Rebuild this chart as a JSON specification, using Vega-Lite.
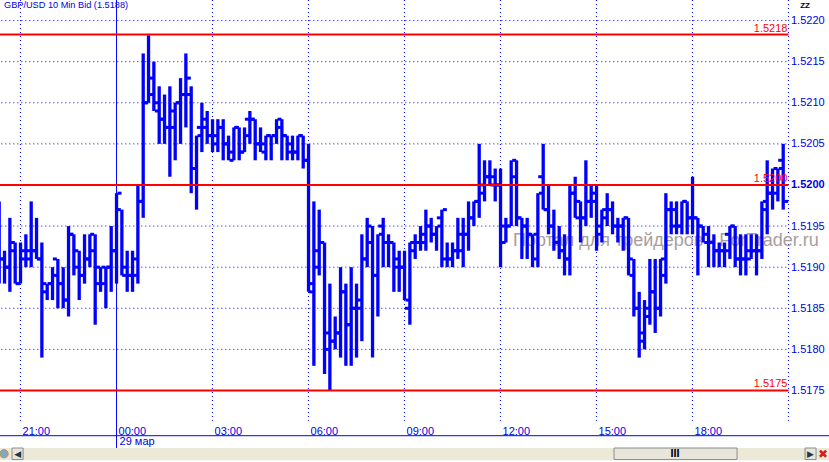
{
"$schema":"https://vega.github.io/schema/vega-lite/v6.json",
"width":829,"height":462,"padding":0,"autosize":"none","background":"#ffffff",
"config":{"view":{"stroke":null}},
"datasets":{
"bars":[
{"t":"2011-03-28T20:20:00","o":1.5192,"h":1.5198,"l":1.5188,"c":1.5191},
{"t":"2011-03-28T20:30:00","o":1.5191,"h":1.5192,"l":1.5188,"c":1.5190},
{"t":"2011-03-28T20:40:00","o":1.5190,"h":1.5196,"l":1.5187,"c":1.5193},
{"t":"2011-03-28T20:50:00","o":1.5192,"h":1.5193,"l":1.5188,"c":1.5188},
{"t":"2011-03-28T21:00:00","o":1.5188,"h":1.5193,"l":1.5188,"c":1.5192},
{"t":"2011-03-28T21:10:00","o":1.5191,"h":1.5194,"l":1.5190,"c":1.5192},
{"t":"2011-03-28T21:20:00","o":1.5191,"h":1.5198,"l":1.5190,"c":1.5192},
{"t":"2011-03-28T21:30:00","o":1.5192,"h":1.5196,"l":1.5191,"c":1.5191},
{"t":"2011-03-28T21:40:00","o":1.5191,"h":1.5193,"l":1.5179,"c":1.5187},
{"t":"2011-03-28T21:50:00","o":1.5188,"h":1.5188,"l":1.5186,"c":1.5188},
{"t":"2011-03-28T22:00:00","o":1.5188,"h":1.5190,"l":1.5186,"c":1.5189},
{"t":"2011-03-28T22:10:00","o":1.5191,"h":1.5191,"l":1.5185,"c":1.5188},
{"t":"2011-03-28T22:20:00","o":1.5188,"h":1.5190,"l":1.5185,"c":1.5186},
{"t":"2011-03-28T22:30:00","o":1.5186,"h":1.5195,"l":1.5184,"c":1.5194},
{"t":"2011-03-28T22:40:00","o":1.5194,"h":1.5194,"l":1.5189,"c":1.5190},
{"t":"2011-03-28T22:50:00","o":1.5192,"h":1.5192,"l":1.5186,"c":1.5189},
{"t":"2011-03-28T23:00:00","o":1.5189,"h":1.5194,"l":1.5188,"c":1.5191},
{"t":"2011-03-28T23:10:00","o":1.5191,"h":1.5194,"l":1.5190,"c":1.5192},
{"t":"2011-03-28T23:20:00","o":1.5194,"h":1.5194,"l":1.5183,"c":1.5190},
{"t":"2011-03-28T23:30:00","o":1.5188,"h":1.5190,"l":1.5187,"c":1.5190},
{"t":"2011-03-28T23:40:00","o":1.5188,"h":1.5190,"l":1.5185,"c":1.5190},
{"t":"2011-03-28T23:50:00","o":1.5190,"h":1.5195,"l":1.5187,"c":1.5192},
{"t":"2011-03-29T00:00:00","o":1.5192,"h":1.5199,"l":1.5188,"c":1.5199},
{"t":"2011-03-29T00:10:00","o":1.5197,"h":1.5197,"l":1.5189,"c":1.5190},
{"t":"2011-03-29T00:20:00","o":1.5189,"h":1.5192,"l":1.5187,"c":1.5189},
{"t":"2011-03-29T00:30:00","o":1.5189,"h":1.5192,"l":1.5187,"c":1.5191},
{"t":"2011-03-29T00:40:00","o":1.5189,"h":1.5200,"l":1.5188,"c":1.5198},
{"t":"2011-03-29T00:50:00","o":1.5198,"h":1.5216,"l":1.5196,"c":1.5210},
{"t":"2011-03-29T01:00:00","o":1.5210,"h":1.52182,"l":1.5210,"c":1.5211},
{"t":"2011-03-29T01:10:00","o":1.5213,"h":1.5215,"l":1.5209,"c":1.5209},
{"t":"2011-03-29T01:20:00","o":1.5210,"h":1.5212,"l":1.5205,"c":1.5208},
{"t":"2011-03-29T01:30:00","o":1.5208,"h":1.5211,"l":1.5205,"c":1.5207},
{"t":"2011-03-29T01:40:00","o":1.5207,"h":1.5212,"l":1.5201,"c":1.5207},
{"t":"2011-03-29T01:50:00","o":1.5209,"h":1.5210,"l":1.5203,"c":1.5210},
{"t":"2011-03-29T02:00:00","o":1.5210,"h":1.5213,"l":1.5205,"c":1.5211},
{"t":"2011-03-29T02:10:00","o":1.5211,"h":1.5216,"l":1.5207,"c":1.5213},
{"t":"2011-03-29T02:20:00","o":1.5211,"h":1.5212,"l":1.5199,"c":1.5202},
{"t":"2011-03-29T02:30:00","o":1.5202,"h":1.5206,"l":1.5197,"c":1.5206},
{"t":"2011-03-29T02:40:00","o":1.5207,"h":1.5210,"l":1.5204,"c":1.5208},
{"t":"2011-03-29T02:50:00","o":1.5207,"h":1.5209,"l":1.5205,"c":1.5206},
{"t":"2011-03-29T03:00:00","o":1.5206,"h":1.5208,"l":1.5204,"c":1.5205},
{"t":"2011-03-29T03:10:00","o":1.5206,"h":1.5208,"l":1.5204,"c":1.5207},
{"t":"2011-03-29T03:20:00","o":1.5207,"h":1.5208,"l":1.5203,"c":1.5205},
{"t":"2011-03-29T03:30:00","o":1.5205,"h":1.5206,"l":1.5203,"c":1.5203},
{"t":"2011-03-29T03:40:00","o":1.5204,"h":1.5207,"l":1.5203,"c":1.5207},
{"t":"2011-03-29T03:50:00","o":1.5207,"h":1.5207,"l":1.5203,"c":1.5204},
{"t":"2011-03-29T04:00:00","o":1.5204,"h":1.5207,"l":1.5204,"c":1.5206},
{"t":"2011-03-29T04:10:00","o":1.5208,"h":1.5209,"l":1.5205,"c":1.5208},
{"t":"2011-03-29T04:20:00","o":1.5208,"h":1.5208,"l":1.5203,"c":1.5205},
{"t":"2011-03-29T04:30:00","o":1.5205,"h":1.5207,"l":1.5204,"c":1.5204},
{"t":"2011-03-29T04:40:00","o":1.5205,"h":1.5206,"l":1.5203,"c":1.5206},
{"t":"2011-03-29T04:50:00","o":1.5206,"h":1.5206,"l":1.5203,"c":1.5206},
{"t":"2011-03-29T05:00:00","o":1.5206,"h":1.5208,"l":1.5205,"c":1.5208},
{"t":"2011-03-29T05:10:00","o":1.5207,"h":1.5208,"l":1.5203,"c":1.5206},
{"t":"2011-03-29T05:20:00","o":1.5206,"h":1.5206,"l":1.5203,"c":1.5205},
{"t":"2011-03-29T05:30:00","o":1.5204,"h":1.5206,"l":1.5203,"c":1.5204},
{"t":"2011-03-29T05:40:00","o":1.5204,"h":1.5206,"l":1.5203,"c":1.5206},
{"t":"2011-03-29T05:50:00","o":1.5206,"h":1.5206,"l":1.5202,"c":1.5203},
{"t":"2011-03-29T06:00:00","o":1.5203,"h":1.5205,"l":1.5187,"c":1.5188},
{"t":"2011-03-29T06:10:00","o":1.5187,"h":1.5198,"l":1.5178,"c":1.5192},
{"t":"2011-03-29T06:20:00","o":1.5190,"h":1.5197,"l":1.5189,"c":1.5193},
{"t":"2011-03-29T06:30:00","o":1.5193,"h":1.5193,"l":1.5177,"c":1.5182},
{"t":"2011-03-29T06:40:00","o":1.5180,"h":1.5188,"l":1.5175,"c":1.5181},
{"t":"2011-03-29T06:50:00","o":1.5181,"h":1.5184,"l":1.5180,"c":1.5182},
{"t":"2011-03-29T07:00:00","o":1.5182,"h":1.5190,"l":1.5179,"c":1.5187},
{"t":"2011-03-29T07:10:00","o":1.5187,"h":1.5188,"l":1.5178,"c":1.5183},
{"t":"2011-03-29T07:20:00","o":1.5183,"h":1.5190,"l":1.5178,"c":1.5185},
{"t":"2011-03-29T07:30:00","o":1.5185,"h":1.5188,"l":1.5179,"c":1.5186},
{"t":"2011-03-29T07:40:00","o":1.5185,"h":1.5194,"l":1.5181,"c":1.5191},
{"t":"2011-03-29T07:50:00","o":1.5191,"h":1.5196,"l":1.5190,"c":1.5193},
{"t":"2011-03-29T08:00:00","o":1.5195,"h":1.5195,"l":1.5179,"c":1.5189},
{"t":"2011-03-29T08:10:00","o":1.5189,"h":1.5194,"l":1.5184,"c":1.5194},
{"t":"2011-03-29T08:20:00","o":1.5195,"h":1.5196,"l":1.5190,"c":1.5193},
{"t":"2011-03-29T08:30:00","o":1.5193,"h":1.5194,"l":1.5190,"c":1.5193},
{"t":"2011-03-29T08:40:00","o":1.5193,"h":1.5193,"l":1.5187,"c":1.5190},
{"t":"2011-03-29T08:50:00","o":1.5191,"h":1.5192,"l":1.5187,"c":1.5190},
{"t":"2011-03-29T09:00:00","o":1.5190,"h":1.5192,"l":1.5186,"c":1.5186},
{"t":"2011-03-29T09:10:00","o":1.5185,"h":1.5193,"l":1.5183,"c":1.5192},
{"t":"2011-03-29T09:20:00","o":1.5193,"h":1.5194,"l":1.5191,"c":1.5193},
{"t":"2011-03-29T09:30:00","o":1.5193,"h":1.5195,"l":1.5192,"c":1.5194},
{"t":"2011-03-29T09:40:00","o":1.5193,"h":1.5197,"l":1.5192,"c":1.5195},
{"t":"2011-03-29T09:50:00","o":1.5195,"h":1.5196,"l":1.5193,"c":1.5194},
{"t":"2011-03-29T10:00:00","o":1.5194,"h":1.5195,"l":1.5192,"c":1.5195},
{"t":"2011-03-29T10:10:00","o":1.5196,"h":1.5197,"l":1.5190,"c":1.5197},
{"t":"2011-03-29T10:20:00","o":1.5191,"h":1.5193,"l":1.5190,"c":1.5191},
{"t":"2011-03-29T10:30:00","o":1.5191,"h":1.5193,"l":1.5190,"c":1.5192},
{"t":"2011-03-29T10:40:00","o":1.5192,"h":1.5196,"l":1.5191,"c":1.5194},
{"t":"2011-03-29T10:50:00","o":1.5192,"h":1.5196,"l":1.5190,"c":1.5194},
{"t":"2011-03-29T11:00:00","o":1.5194,"h":1.5198,"l":1.5192,"c":1.5196},
{"t":"2011-03-29T11:10:00","o":1.5196,"h":1.5198,"l":1.5195,"c":1.5198},
{"t":"2011-03-29T11:20:00","o":1.5198,"h":1.5205,"l":1.5196,"c":1.5200},
{"t":"2011-03-29T11:30:00","o":1.5199,"h":1.5203,"l":1.5198,"c":1.5201},
{"t":"2011-03-29T11:40:00","o":1.5201,"h":1.5203,"l":1.5200,"c":1.5201},
{"t":"2011-03-29T11:50:00","o":1.5200,"h":1.5202,"l":1.5198,"c":1.5200},
{"t":"2011-03-29T12:00:00","o":1.5200,"h":1.5202,"l":1.5190,"c":1.5193},
{"t":"2011-03-29T12:10:00","o":1.5195,"h":1.5196,"l":1.5193,"c":1.5195},
{"t":"2011-03-29T12:20:00","o":1.5195,"h":1.5203,"l":1.5195,"c":1.5203},
{"t":"2011-03-29T12:30:00","o":1.5201,"h":1.5203,"l":1.5195,"c":1.5196},
{"t":"2011-03-29T12:40:00","o":1.5196,"h":1.5196,"l":1.5191,"c":1.5195},
{"t":"2011-03-29T12:50:00","o":1.5195,"h":1.5196,"l":1.5191,"c":1.5194},
{"t":"2011-03-29T13:00:00","o":1.5194,"h":1.5194,"l":1.5190,"c":1.5194},
{"t":"2011-03-29T13:10:00","o":1.5191,"h":1.5199,"l":1.5190,"c":1.5199},
{"t":"2011-03-29T13:20:00","o":1.5201,"h":1.5205,"l":1.5197,"c":1.5197},
{"t":"2011-03-29T13:30:00","o":1.5197,"h":1.5200,"l":1.5194,"c":1.5195},
{"t":"2011-03-29T13:40:00","o":1.5195,"h":1.5197,"l":1.5192,"c":1.5193},
{"t":"2011-03-29T13:50:00","o":1.5193,"h":1.5195,"l":1.5191,"c":1.5192},
{"t":"2011-03-29T14:00:00","o":1.5192,"h":1.5194,"l":1.5189,"c":1.5191},
{"t":"2011-03-29T14:10:00","o":1.5191,"h":1.5200,"l":1.5189,"c":1.5199},
{"t":"2011-03-29T14:20:00","o":1.5199,"h":1.5201,"l":1.5196,"c":1.5198},
{"t":"2011-03-29T14:30:00","o":1.5196,"h":1.5198,"l":1.5193,"c":1.5196},
{"t":"2011-03-29T14:40:00","o":1.5196,"h":1.5203,"l":1.5195,"c":1.5198},
{"t":"2011-03-29T14:50:00","o":1.5198,"h":1.5200,"l":1.5196,"c":1.5198},
{"t":"2011-03-29T15:00:00","o":1.5199,"h":1.5200,"l":1.5192,"c":1.5195},
{"t":"2011-03-29T15:10:00","o":1.5194,"h":1.5197,"l":1.5193,"c":1.5196},
{"t":"2011-03-29T15:20:00","o":1.5197,"h":1.5199,"l":1.5195,"c":1.5197},
{"t":"2011-03-29T15:30:00","o":1.5197,"h":1.5198,"l":1.5194,"c":1.5195},
{"t":"2011-03-29T15:40:00","o":1.5195,"h":1.5196,"l":1.5193,"c":1.5195},
{"t":"2011-03-29T15:50:00","o":1.5195,"h":1.5196,"l":1.5192,"c":1.5196},
{"t":"2011-03-29T16:00:00","o":1.5196,"h":1.5196,"l":1.5189,"c":1.5189},
{"t":"2011-03-29T16:10:00","o":1.5191,"h":1.5191,"l":1.5184,"c":1.5185},
{"t":"2011-03-29T16:20:00","o":1.5185,"h":1.5187,"l":1.5179,"c":1.5182},
{"t":"2011-03-29T16:30:00","o":1.5181,"h":1.5186,"l":1.5180,"c":1.5184},
{"t":"2011-03-29T16:40:00","o":1.5185,"h":1.5191,"l":1.5183,"c":1.5187},
{"t":"2011-03-29T16:50:00","o":1.5187,"h":1.5191,"l":1.5182,"c":1.5185},
{"t":"2011-03-29T17:00:00","o":1.5185,"h":1.5191,"l":1.5184,"c":1.5189},
{"t":"2011-03-29T17:10:00","o":1.5191,"h":1.5199,"l":1.5188,"c":1.5197},
{"t":"2011-03-29T17:20:00","o":1.5197,"h":1.5198,"l":1.5194,"c":1.5197},
{"t":"2011-03-29T17:30:00","o":1.5195,"h":1.5198,"l":1.5194,"c":1.5195},
{"t":"2011-03-29T17:40:00","o":1.5195,"h":1.5198,"l":1.5194,"c":1.5198},
{"t":"2011-03-29T17:50:00","o":1.5198,"h":1.5198,"l":1.5194,"c":1.5196},
{"t":"2011-03-29T18:00:00","o":1.5196,"h":1.5201,"l":1.5194,"c":1.5196},
{"t":"2011-03-29T18:10:00","o":1.5196,"h":1.5196,"l":1.5189,"c":1.5195},
{"t":"2011-03-29T18:20:00","o":1.5195,"h":1.5195,"l":1.5193,"c":1.5193},
{"t":"2011-03-29T18:30:00","o":1.5194,"h":1.5195,"l":1.5190,"c":1.5193},
{"t":"2011-03-29T18:40:00","o":1.5193,"h":1.5194,"l":1.5190,"c":1.5192},
{"t":"2011-03-29T18:50:00","o":1.5192,"h":1.5193,"l":1.5190,"c":1.5192},
{"t":"2011-03-29T19:00:00","o":1.5192,"h":1.5193,"l":1.5190,"c":1.5192},
{"t":"2011-03-29T19:10:00","o":1.5194,"h":1.5195,"l":1.5191,"c":1.5195},
{"t":"2011-03-29T19:20:00","o":1.5195,"h":1.5195,"l":1.5190,"c":1.5191},
{"t":"2011-03-29T19:30:00","o":1.5191,"h":1.5194,"l":1.5189,"c":1.5191},
{"t":"2011-03-29T19:40:00","o":1.5191,"h":1.5194,"l":1.5189,"c":1.5191},
{"t":"2011-03-29T19:50:00","o":1.5192,"h":1.5194,"l":1.5191,"c":1.5192},
{"t":"2011-03-29T20:00:00","o":1.5192,"h":1.5194,"l":1.5189,"c":1.5192},
{"t":"2011-03-29T20:10:00","o":1.5192,"h":1.5198,"l":1.5191,"c":1.5198},
{"t":"2011-03-29T20:20:00","o":1.5197,"h":1.5203,"l":1.5194,"c":1.5199},
{"t":"2011-03-29T20:30:00","o":1.5199,"h":1.5202,"l":1.5197,"c":1.5202},
{"t":"2011-03-29T20:40:00","o":1.5199,"h":1.5202,"l":1.5198,"c":1.5202},
{"t":"2011-03-29T20:50:00","o":1.5203,"h":1.5205,"l":1.5197,"c":1.5198}
],
"levels":[
{"t":"2011-03-28T20:24:00","t2":"2011-03-29T21:00:00","p":1.5220},
{"t":"2011-03-28T20:24:00","t2":"2011-03-29T21:00:00","p":1.5215},
{"t":"2011-03-28T20:24:00","t2":"2011-03-29T21:00:00","p":1.5210},
{"t":"2011-03-28T20:24:00","t2":"2011-03-29T21:00:00","p":1.5205},
{"t":"2011-03-28T20:24:00","t2":"2011-03-29T21:00:00","p":1.5200},
{"t":"2011-03-28T20:24:00","t2":"2011-03-29T21:00:00","p":1.5195},
{"t":"2011-03-28T20:24:00","t2":"2011-03-29T21:00:00","p":1.5190},
{"t":"2011-03-28T20:24:00","t2":"2011-03-29T21:00:00","p":1.5185},
{"t":"2011-03-28T20:24:00","t2":"2011-03-29T21:00:00","p":1.5180},
{"t":"2011-03-28T20:24:00","t2":"2011-03-29T21:00:00","p":1.5175}],
"times":[{"t":"2011-03-28T21:00:00"},{"t":"2011-03-29T03:00:00"},{"t":"2011-03-29T06:00:00"},{"t":"2011-03-29T09:00:00"},{"t":"2011-03-29T12:00:00"},{"t":"2011-03-29T15:00:00"},{"t":"2011-03-29T18:00:00"},{"t":"2011-03-29T21:00:00"}],
"lines":[
{"t":"2011-03-28T20:21:30","t2":"2011-03-29T21:00:00","tl":"2011-03-29T20:58:00","p":1.52183,"label":"1.5218"},
{"t":"2011-03-28T20:21:30","t2":"2011-03-29T21:00:00","tl":"2011-03-29T20:58:00","p":1.5200,"label":"1.5200"},
{"t":"2011-03-28T20:21:30","t2":"2011-03-29T21:00:00","tl":"2011-03-29T20:58:00","p":1.5175,"label":"1.5175"}]
},
"layer":[
{"data":{"name":"levels"},"mark":{"type":"rule","color":"#0000ff","strokeWidth":1,"strokeDash":[1,3]},"encoding":{
"x":{"field":"t","type":"temporal","title":null,"scale":{"domain":[{"year":2011,"month":3,"date":28,"hours":20,"minutes":21,"seconds":30},{"year":2011,"month":3,"date":29,"hours":22,"minutes":15,"seconds":52}]},
"axis":{"orient":"bottom","offset":-41,"grid":false,"domain":false,"ticks":false,"values":[{"year":2011,"month":3,"date":28,"hours":21},{"year":2011,"month":3,"date":29,"hours":0},{"year":2011,"month":3,"date":29,"hours":3},{"year":2011,"month":3,"date":29,"hours":6},{"year":2011,"month":3,"date":29,"hours":9},{"year":2011,"month":3,"date":29,"hours":12},{"year":2011,"month":3,"date":29,"hours":15},{"year":2011,"month":3,"date":29,"hours":18}],"format":"%H:%M","labelAlign":"left","labelBaseline":"top","labelPadding":4,"labelOffset":1.5,"labelFont":"Liberation Sans","labelFontSize":11,"labelColor":"#0000e0"}},
"x2":{"field":"t2"},
"y":{"field":"p","type":"quantitative","title":null,"scale":{"domain":[1.51663,1.52225],"zero":false,"nice":false},
"axis":{"orient":"right","offset":-40.5,"grid":false,"domain":false,"ticks":false,"values":[1.5175,1.518,1.5185,1.519,1.5195,1.52,1.5205,1.521,1.5215,1.522],"format":".4f","labelPadding":2,"labelFont":"Liberation Sans","labelFontSize":11,"labelColor":"#0000e0","labelFontWeight":{"condition":{"test":"abs(datum.value-1.52)<0.00001","value":"bold"},"value":"normal"}}}}},
{"data":{"name":"times"},"mark":{"type":"rule","color":"#0000ff","strokeWidth":1,"strokeDash":[1,3]},"encoding":{
"x":{"field":"t","type":"temporal"},"y":{"datum":1.52225,"type":"quantitative"},"y2":{"datum":1.51713}}},
{"data":{"values":[{"t":"2011-03-29T00:00:00"}]},"mark":{"type":"rule","color":"#0000ff","strokeWidth":1},"encoding":{
"x":{"field":"t","type":"temporal"},"y":{"datum":1.52225,"type":"quantitative"},"y2":{"datum":1.5168}}},
{"data":{"values":[{"t":"2011-03-29T12:23:26","p":1.51932,"label":"Портал для трейдеров - ForTrader.ru"}]},"mark":{"type":"text","align":"left","baseline":"middle","fontSize":18,"color":"#a89e9e","font":"Liberation Sans"},"encoding":{"x":{"field":"t","type":"temporal"},"y":{"field":"p","type":"quantitative"},"text":{"field":"label"}}},
{"data":{"name":"bars"},"mark":{"type":"rule","color":"#0000ff","strokeWidth":3.3},"encoding":{
"x":{"field":"t","type":"temporal"},"y":{"field":"l","type":"quantitative"},"y2":{"field":"h"}}},
{"data":{"name":"bars"},"mark":{"type":"rule","color":"#0000ff","strokeWidth":3,"xOffset":-5,"x2Offset":-1},"encoding":{
"x":{"field":"t","type":"temporal"},"x2":{"field":"t"},"y":{"field":"o","type":"quantitative"}}},
{"data":{"name":"bars"},"mark":{"type":"rule","color":"#0000ff","strokeWidth":3,"xOffset":1,"x2Offset":5},"encoding":{
"x":{"field":"t","type":"temporal"},"x2":{"field":"t"},"y":{"field":"c","type":"quantitative"}}},
{"data":{"name":"lines"},"mark":{"type":"rule","color":"#ff0000","strokeWidth":2},"encoding":{
"x":{"field":"t","type":"temporal"},"x2":{"field":"t2"},"y":{"field":"p","type":"quantitative"}}},
{"data":{"name":"lines"},"mark":{"type":"text","align":"right","baseline":"bottom","color":"#ff0000","fontSize":11,"dy":-1,"font":"Liberation Sans"},"encoding":{
"x":{"field":"tl","type":"temporal"},"y":{"field":"p","type":"quantitative"},"text":{"field":"label"}}},
{"data":{"values":[{"t":"2011-03-28T20:21:30","p":1.52225,"label":"GBP/USD 10 Min Bid (1.5188)"}]},"mark":{"type":"text","align":"left","baseline":"top","dx":4,"dy":1,"fontSize":9.2,"color":"#0000e0","font":"Liberation Sans"},"encoding":{"x":{"field":"t","type":"temporal"},"y":{"field":"p","type":"quantitative"},"text":{"field":"label"}}},
{"data":{"values":[{"t":"2011-03-29T00:00:00","p":1.51687,"label":"29 мар"}]},"mark":{"type":"text","align":"left","baseline":"middle","dx":3,"fontSize":11,"color":"#0000e0","font":"Liberation Sans"},"encoding":{"x":{"field":"t","type":"temporal"},"y":{"field":"p","type":"quantitative"},"text":{"field":"label"}}},
{"data":{"values":[{"t":"2011-03-28T20:21:30","t2":"2011-03-29T22:15:52","p":1.5168,"p2":1.51665}]},"mark":{"type":"rect","fill":"#ece9d8"},"encoding":{"x":{"field":"t","type":"temporal"},"x2":{"field":"t2"},"y":{"field":"p","type":"quantitative"},"y2":{"field":"p2"}}},
{"data":{"values":[{"t":"2011-03-28T20:21:30","t2":"2011-03-29T22:15:52","p":1.51695}]},"mark":{"type":"rule","color":"#0000ff","strokeWidth":1},"encoding":{"x":{"field":"t","type":"temporal"},"x2":{"field":"t2"},"y":{"field":"p","type":"quantitative"}}},
{"data":{"values":[{"t":"2011-03-29T15:32:49","t2":"2011-03-29T19:23:26","p":1.5168,"p2":1.51666},{"t":"2011-03-28T20:44:02","t2":"2011-03-28T21:04:50","p":1.5168,"p2":1.51666},{"t":"2011-03-29T21:30:56","t2":"2011-03-29T21:51:38","p":1.5168,"p2":1.51666}]},"mark":{"type":"rect","fill":"#e8e6da","stroke":"#8c8c8c","strokeWidth":1},"encoding":{"x":{"field":"t","type":"temporal"},"x2":{"field":"t2"},"y":{"field":"p","type":"quantitative"},"y2":{"field":"p2"}}},
{"data":{"values":[{"t":"2011-03-29T17:27:11","p":1.51673,"label":"III"}]},"mark":{"type":"text","align":"center","baseline":"middle","fontSize":11,"fontWeight":"bold","color":"#000000","font":"Liberation Sans"},"encoding":{"x":{"field":"t","type":"temporal"},"y":{"field":"p","type":"quantitative"},"text":{"field":"label"}}},
{"data":{"values":[{"t":"2011-03-28T20:54:30","p":1.51673,"label":"◀"},{"t":"2011-03-29T21:41:00","p":1.51673,"label":"▶"}]},"mark":{"type":"text","align":"center","baseline":"middle","fontSize":9,"color":"#1f3a4a","font":"DejaVu Sans"},"encoding":{"x":{"field":"t","type":"temporal"},"y":{"field":"p","type":"quantitative"},"text":{"field":"label"}}},
{"data":{"values":[{"t":"2011-03-29T22:04:52","p":1.51673,"label":"✖"}]},"mark":{"type":"text","align":"center","baseline":"middle","fontSize":12,"color":"#d02020","font":"DejaVu Sans"},"encoding":{"x":{"field":"t","type":"temporal"},"y":{"field":"p","type":"quantitative"},"text":{"field":"label"}}},
{"data":{"values":[{"t":"2011-03-28T20:29:03","p":1.51673}]},"mark":{"type":"point","filled":true,"size":70,"color":"#7fa8c8","stroke":"#c89030","strokeWidth":1,"opacity":1},"encoding":{"x":{"field":"t","type":"temporal"},"y":{"field":"p","type":"quantitative"}}},
{"data":{"values":[{"t":"2011-03-29T21:30:56","p":1.52218,"label":"ZZ"}]},"mark":{"type":"text","align":"center","baseline":"middle","fontSize":8,"fontWeight":"bold","color":"#000000","font":"Liberation Sans"},"encoding":{"x":{"field":"t","type":"temporal"},"y":{"field":"p","type":"quantitative"},"text":{"field":"label"}}}
]
}
